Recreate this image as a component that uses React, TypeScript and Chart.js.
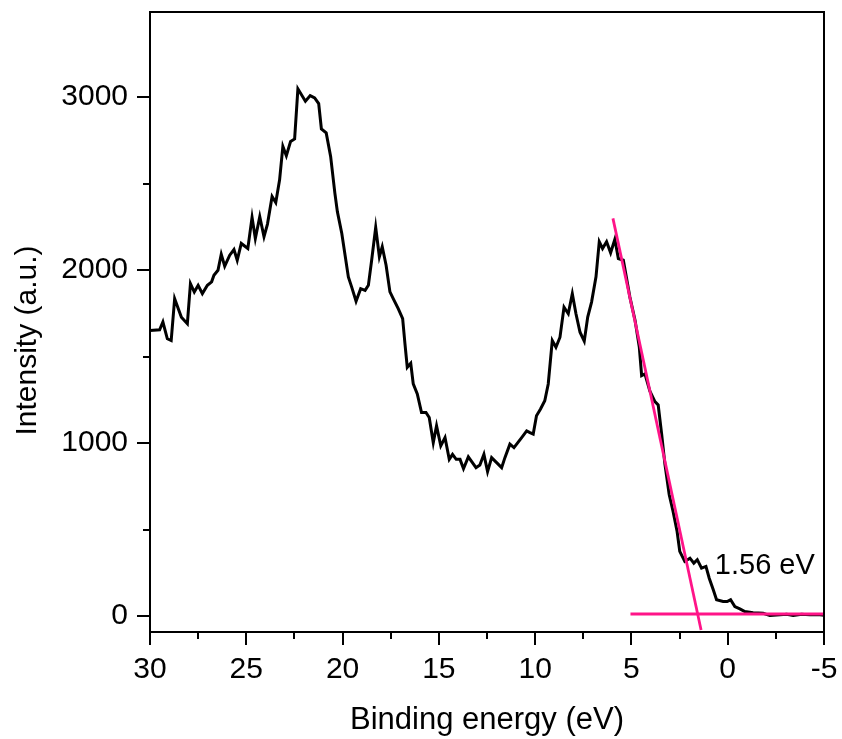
import React, { useEffect, useRef } from "react";
import { Chart, registerables } from "chart.js";

Chart.register(...registerables);

// Binding energy (eV) of the valence-band spectrum, high to low
const energy = [
  30.0, 29.5, 29.33, 29.1, 28.9, 28.72, 28.37, 28.06, 27.9, 27.7, 27.5, 27.28, 27.02, 26.8, 26.68,
  26.47, 26.3, 26.12, 25.86, 25.64, 25.47, 25.26, 24.92, 24.7, 24.53, 24.3, 24.08, 23.9, 23.66,
  23.47, 23.27, 23.1, 22.92, 22.7, 22.49, 22.32, 21.93, 21.68, 21.45, 21.24, 21.1, 20.85, 20.62,
  20.4, 20.27, 20.04, 19.7, 19.53, 19.3, 19.06, 18.83, 18.66, 18.49, 18.28, 18.09, 17.94, 17.74,
  17.54, 17.37, 17.11, 16.88, 16.76, 16.64, 16.46, 16.33, 16.12, 15.9, 15.67, 15.5, 15.29, 15.12,
  14.9, 14.68, 14.46, 14.29, 14.1, 13.9, 13.72, 13.47, 13.07, 12.87, 12.66, 12.47, 12.26, 12.0,
  11.74, 11.57, 11.31, 11.1, 10.7, 10.44, 10.27, 10.1, 9.93, 9.72, 9.5, 9.32, 9.11, 8.92, 8.71,
  8.5, 8.28, 8.07, 7.88, 7.67, 7.45, 7.27, 7.07, 6.84, 6.67, 6.5, 6.29, 6.08, 5.86, 5.68, 5.42,
  5.08, 4.81, 4.59, 4.47, 4.3, 4.04, 3.78, 3.61, 3.43, 3.26, 3.04, 2.84, 2.63, 2.49, 2.23, 1.96,
  1.76, 1.58, 1.36, 1.13, 0.96, 0.75, 0.58, 0.24, 0.03, -0.15, -0.37, -0.63, -0.89, -1.32, -1.84,
  -2.19, -2.71, -3.06, -3.4, -3.84, -4.27, -4.79, -5.0,
];

// Intensity (a.u.)
const intensity = [
  1651, 1655, 1700, 1603, 1593, 1835, 1728, 1690, 1922, 1873, 1912, 1864, 1912, 1932, 1970,
  1999, 2092, 2023, 2086, 2119, 2057, 2154, 2125, 2305, 2183, 2309, 2193, 2266, 2425,
  2390, 2522, 2715, 2661, 2744, 2758, 3048, 2976, 3009, 2996, 2963, 2816, 2793, 2657,
  2445, 2338, 2212, 1961, 1903, 1820, 1893, 1883, 1912, 2057, 2247, 2077, 2135, 2028,
  1874, 1835, 1777, 1719, 1574, 1438, 1461, 1342, 1284, 1177, 1177, 1148, 1003, 1100,
  984, 1032, 906, 935, 906, 906, 852, 920, 858, 873, 935, 835, 916, 887,
  858, 916, 994, 974, 1032, 1071, 1061, 1052, 1158, 1197, 1245, 1342, 1593, 1554, 1612,
  1786, 1748, 1864, 1748, 1641, 1589, 1728, 1815, 1961, 2164, 2125, 2164, 2100, 2178, 2067, 2057,
  1844, 1709, 1554, 1390, 1400, 1300, 1240, 1220, 1052, 877, 703, 606, 490, 374, 316, 335,
  306, 326, 277, 287, 219, 152, 94, 84, 84, 94, 55, 42, 26, 20, 16,
  3, 7, 10, 3, 10, 7, 7, 5,
];

// Linear extrapolation of the leading edge and the background line
const edgeEnergy = [5.96, 1.383];
const edgeIntensity = [2299, -80];
const baseEnergy = [5.05, -5];
const baseIntensity = [12, 12];

const xMajorTicks = [30, 25, 20, 15, 10, 5, 0, -5];
const xMinorTicks = [27.5, 22.5, 17.5, 12.5, 7.5, 2.5, -2.5];
const yMajorTicks = [0, 1000, 2000, 3000];
const yMinorTicks = [500, 1500, 2500];

const xTitle = "Binding energy (eV)";
const yTitle = "Intensity (a.u.)";
const gapLabel = "1.56 eV";
const gapLabelEnergy = 0.67;
const gapLabelIntensity = 242;

const FONT = '"Liberation Sans", Arial, sans-serif';
const PINK = "#ff1488";

const decorations = {
  id: "decorations",
  afterDraw(chart: any) {
    const { ctx, chartArea: a, scales } = chart;
    const xs = scales.x;
    const ys = scales.y;
    ctx.save();
    ctx.strokeStyle = "#000";
    ctx.lineWidth = 2;
    ctx.beginPath();
    ctx.moveTo(a.left - 1, a.top);
    ctx.lineTo(a.right, a.top);
    ctx.lineTo(a.right, a.bottom + 1);
    for (const v of xMajorTicks) {
      const p = Math.round(xs.getPixelForValue(v));
      ctx.moveTo(p, a.bottom);
      ctx.lineTo(p, a.bottom + 13);
    }
    for (const v of xMinorTicks) {
      const p = Math.round(xs.getPixelForValue(v));
      ctx.moveTo(p, a.bottom);
      ctx.lineTo(p, a.bottom + 7);
    }
    for (const v of yMajorTicks) {
      const p = Math.round(ys.getPixelForValue(v));
      ctx.moveTo(a.left, p);
      ctx.lineTo(a.left - 13, p);
    }
    for (const v of yMinorTicks) {
      const p = Math.round(ys.getPixelForValue(v));
      ctx.moveTo(a.left, p);
      ctx.lineTo(a.left - 7, p);
    }
    ctx.stroke();

    ctx.fillStyle = "#000";
    ctx.font = `29px ${FONT}`;
    ctx.textAlign = "left";
    ctx.textBaseline = "alphabetic";
    ctx.fillText(gapLabel, xs.getPixelForValue(gapLabelEnergy), ys.getPixelForValue(gapLabelIntensity));

    ctx.font = `30px ${FONT}`;
    ctx.translate(28, 340.5);
    ctx.rotate(-Math.PI / 2);
    ctx.textAlign = "center";
    ctx.textBaseline = "middle";
    ctx.fillText(yTitle, 0, 0);
    ctx.restore();
  },
};

const zeroPad = (s: any) => {
  s.paddingTop = 0;
  s.paddingBottom = 0;
  s.paddingLeft = 0;
  s.paddingRight = 0;
};

export default function App() {
  const ref = useRef<HTMLCanvasElement | null>(null);

  useEffect(() => {
    if (!ref.current) return;
    const toPts = (xsArr: number[], ysArr: number[]) => xsArr.map((e, i) => ({ x: e, y: ysArr[i] }));
    const chart = new Chart(ref.current, {
      type: "line",
      data: {
        datasets: [
          {
            data: toPts(edgeEnergy, edgeIntensity),
            borderColor: PINK,
            borderWidth: 2.8,
            pointRadius: 0,
          },
          {
            data: toPts(baseEnergy, baseIntensity),
            borderColor: PINK,
            borderWidth: 2.8,
            pointRadius: 0,
          },
          {
            data: toPts(energy, intensity),
            borderColor: "#000",
            borderWidth: 3,
            pointRadius: 0,
            tension: 0,
          },
        ],
      },
      options: {
        animation: false,
        responsive: false,
        maintainAspectRatio: false,
        layout: { padding: { left: 0, top: 12, right: 18, bottom: 0 } },
        plugins: { legend: { display: false }, tooltip: { enabled: false } },
        scales: {
          x: {
            type: "linear",
            reverse: true,
            min: -5,
            max: 30,
            afterBuildTicks: (s: any) => {
              s.ticks = xMajorTicks.map((v) => ({ value: v }));
            },
            afterFit: (s: any) => {
              s.height = 107;
              zeroPad(s);
            },
            grid: { display: false, drawTicks: false },
            border: { display: true, color: "#000", width: 2 },
            ticks: {
              padding: 20,
              color: "#000",
              font: { size: 30, family: FONT },
              maxRotation: 0,
              autoSkip: false,
              callback: (v: any) => String(v),
            },
            title: {
              display: true,
              text: xTitle,
              color: "#000",
              font: { size: 31, family: FONT },
              padding: { top: 0, bottom: 0 },
            },
          },
          y: {
            type: "linear",
            min: -92,
            max: 3492,
            afterBuildTicks: (s: any) => {
              s.ticks = yMajorTicks.map((v) => ({ value: v }));
            },
            afterFit: (s: any) => {
              s.width = 150;
              zeroPad(s);
            },
            grid: { display: false, drawTicks: false },
            border: { display: true, color: "#000", width: 2 },
            ticks: {
              padding: 22,
              color: "#000",
              font: { size: 30, family: FONT },
              autoSkip: false,
              callback: (v: any) => String(v),
            },
          },
        },
      },
      plugins: [decorations],
    });
    return () => chart.destroy();
  }, []);

  return (
    <div style={{ position: "absolute", left: 0, top: 0, width: 842, height: 739, background: "#fff" }}>
      <canvas ref={ref} width={842} height={739} style={{ display: "block" }} />
    </div>
  );
}
